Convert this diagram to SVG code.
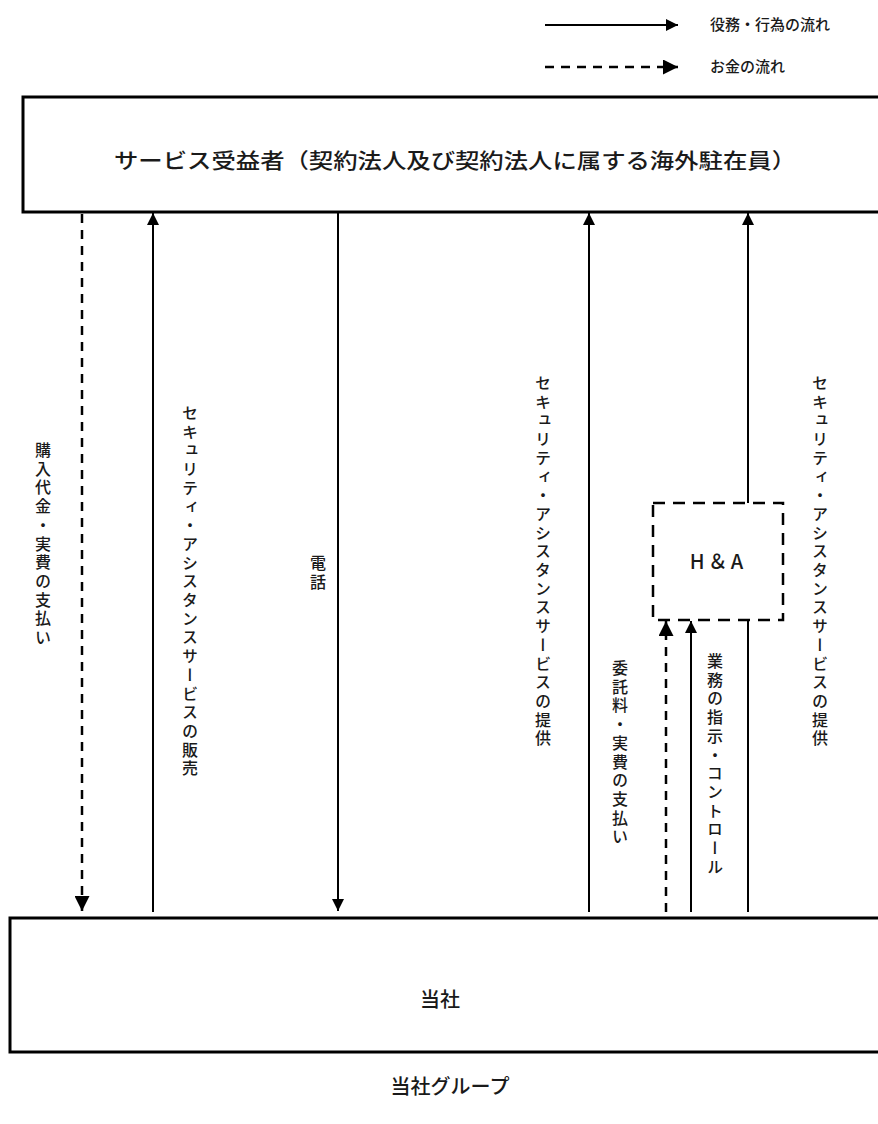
<svg xmlns="http://www.w3.org/2000/svg" width="878" height="1124" viewBox="0 0 878 1124">
<style>
.box{fill:#fff;stroke:#000;stroke-width:3}
.ln{stroke:#000;stroke-width:2;fill:none}
.dash{stroke:#000;stroke-width:2.5;fill:none;stroke-dasharray:9 7}
.t{font-family:"Noto Sans CJK JP","Noto Sans",sans-serif;fill:#1a1a1a;font-weight:500}
.v{font-family:"Noto Sans CJK JP",sans-serif;font-size:16px;font-weight:500;writing-mode:vertical-rl;letter-spacing:2.7px;fill:#1a1a1a}
</style>
<defs>
<marker id="ah" viewBox="0 0 10 10" refX="10" refY="5" markerWidth="6" markerHeight="6" orient="auto" markerUnits="strokeWidth">
<path d="M0,0 L10,5 L0,10 z" fill="#000"/>
</marker>
</defs>
<rect width="878" height="1124" fill="#fff"/>
<g id="legend">
<line class="ln" x1="545" y1="25" x2="678" y2="25" marker-end="url(#ah)"/>
<text class="t" x="710" y="30" font-size="15">役務・行為の流れ</text>
<line class="dash" x1="545" y1="67" x2="678" y2="67" stroke-dasharray="8 8" marker-end="url(#ah)"/>
<text class="t" x="710" y="72" font-size="15">お金の流れ</text>
</g>
<g id="node-beneficiary">
<rect class="box" x="23" y="97" width="870" height="115"/>
<text class="t" x="455" y="168" font-size="21" text-anchor="middle" textLength="682" lengthAdjust="spacingAndGlyphs">サービス受益者（契約法人及び契約法人に属する海外駐在員）</text>
</g>
<g id="node-company">
<rect class="box" x="10" y="918" width="880" height="134"/>
<text class="t" x="440" y="1007" font-size="20" text-anchor="middle">当社</text>
</g>
<text class="t" x="450" y="1094" font-size="20" text-anchor="middle">当社グループ</text>
<g id="node-ha">
<rect x="653" y="503" width="130" height="117" fill="#fff" stroke="#000" stroke-width="2.5" stroke-dasharray="12 8"/>
<text class="t" x="718" y="569" font-size="20" font-weight="400" text-anchor="middle" letter-spacing="3">H＆A</text>
</g>
<g id="connectors">
<line class="dash" x1="82" y1="214" x2="82" y2="911" marker-end="url(#ah)"/>
<line class="ln" x1="153" y1="912" x2="153" y2="213" marker-end="url(#ah)"/>
<line class="ln" x1="338" y1="213" x2="338" y2="911" marker-end="url(#ah)"/>
<line class="ln" x1="589" y1="912" x2="589" y2="213" marker-end="url(#ah)"/>
<line class="ln" x1="748" y1="503" x2="748" y2="213" marker-end="url(#ah)"/>
<line class="dash" x1="666" y1="912" x2="666" y2="621" marker-end="url(#ah)"/>
<line class="ln" x1="691" y1="912" x2="691" y2="621" marker-end="url(#ah)"/>
<line class="ln" x1="748" y1="620" x2="748" y2="912"/>
</g>
<g id="labels">
<text class="v" x="43" y="442">購入代金・実費の支払い</text>
<text class="v" x="190" y="405">セキュリティ・アシスタンスサービスの販売</text>
<text class="v" x="318" y="555">電話</text>
<text class="v" x="543" y="375">セキュリティ・アシスタンスサービスの提供</text>
<text class="v" x="620" y="660">委託料・実費の支払い</text>
<text class="v" x="715" y="653">業務の指示・コントロール</text>
<text class="v" x="820" y="375">セキュリティ・アシスタンスサービスの提供</text>
</g>
</svg>
